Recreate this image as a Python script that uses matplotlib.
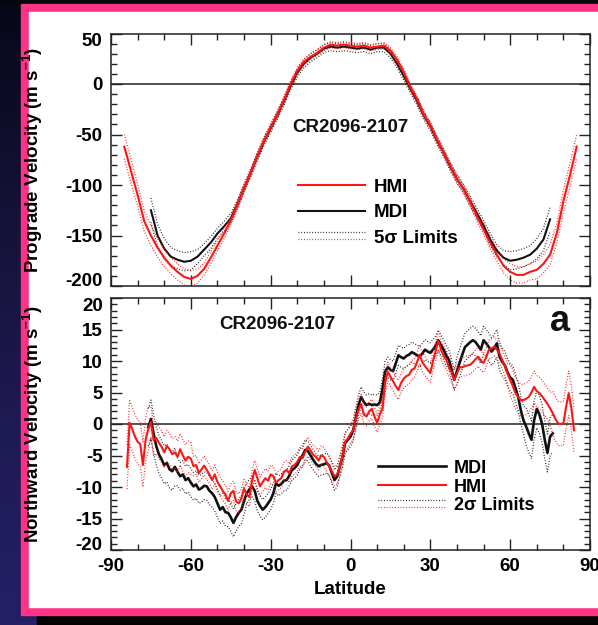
import numpy as np
import matplotlib
matplotlib.use('Agg')
import matplotlib.pyplot as plt
from matplotlib.lines import Line2D
from matplotlib.legend_handler import HandlerBase
from matplotlib.patches import Rectangle
from matplotlib.ticker import MultipleLocator
from matplotlib.colors import LinearSegmentedColormap

plt.rcParams['font.family'] = ['Liberation Sans', 'DejaVu Sans']
plt.rcParams['font.weight'] = 'bold'
plt.rcParams['axes.unicode_minus'] = False
plt.rcParams['mathtext.fontset'] = 'custom'
plt.rcParams['mathtext.rm'] = 'Liberation Sans:bold'
plt.rcParams['mathtext.it'] = 'Liberation Sans:bold'
plt.rcParams['mathtext.bf'] = 'Liberation Sans:bold'
plt.rcParams['mathtext.default'] = 'rm'

# ---------------- data: top panel (prograde velocity) ----------------
lat_top_hmi = [-85, -82.5, -80, -77.5, -75, -72.5, -70, -67.5, -65, -62.5, -60, -57.5,
               -55, -52.5, -50, -47.5, -45, -42.5, -40, -37.5, -35, -32.5, -30, -27.5,
               -25, -22.5, -20, -17.5, -15, -12.5, -10, -7.5, -5, -2.5, 0, 2.5, 5, 7.5,
               10, 12.5, 15, 17.5, 20, 22.5, 25, 27.5, 30, 32.5, 35, 37.5, 40, 42.5, 45,
               47.5, 50, 52.5, 55, 57.5, 60, 62.5, 65, 67.5, 70, 72.5, 75, 77.5, 80, 82.5, 85]
v_top_hmi = [-62, -86, -110, -136, -150, -162, -172, -180, -186, -191, -193, -190,
             -183, -172, -160, -148, -135, -120, -103, -88, -71, -56, -43, -30,
             -16, 0, 13, 22, 27, 31, 36, 39, 38, 39, 38, 37, 38, 36,
             37, 38, 33, 24, 12, -3, -15, -30, -41, -55, -68, -81, -94, -104, -117,
             -131, -144, -157, -169, -180, -186, -189, -189, -186, -184, -178, -169, -148, -116, -90, -62]
sig_top_hmi = [12, 12, 11, 10, 10, 9, 9, 8, 8, 8, 8, 7, 6, 6, 5, 5, 4, 4, 4,
               3, 3, 3, 3, 3, 3, 3, 3, 3, 3, 3, 3, 3, 3, 3, 3,
               3, 3, 3, 3, 3, 3, 3, 3, 3, 3, 3, 3, 3, 3, 3,
               4, 4, 4, 5, 5, 6, 6, 7, 8, 8, 8, 8, 9, 9, 10, 10, 11, 12, 12]

lat_top_mdi = [-75, -72.5, -70, -67.5, -65, -62.5, -60, -57.5, -55, -52.5, -50, -47.5,
               -45, -42.5, -40, -37.5, -35, -32.5, -30, -27.5, -25, -22.5, -20, -17.5,
               -15, -12.5, -10, -7.5, -5, -2.5, 0, 2.5, 5, 7.5, 10, 12.5, 15, 17.5, 20,
               22.5, 25, 27.5, 30, 32.5, 35, 37.5, 40, 42.5, 45, 47.5, 50, 52.5, 55,
               57.5, 60, 62.5, 65, 67.5, 70, 72.5, 75]
v_top_mdi = [-125, -150, -163, -171, -174, -176, -175, -171, -164, -157, -148, -141,
             -133, -119, -103, -88, -72, -57, -44, -31, -17, -2, 11, 20,
             26, 30, 35, 37, 36, 37, 36, 35, 36, 34, 36, 36, 30, 20, 8,
             -5, -17, -31, -42, -56, -68, -82, -94, -104, -116, -128, -140, -154, -165,
             -172, -175, -174, -172, -169, -163, -154, -134]
sig_top_mdi = [12, 11, 10, 9, 9, 9, 9, 7, 6, 6, 5, 5, 5,
               4, 4, 4, 4, 4, 4, 4, 4, 4, 4, 4, 4, 4, 4, 4, 4, 4,
               4,
               4, 4, 4, 4, 4, 4, 4, 4, 4, 4, 4, 4, 4, 4, 4, 4, 4,
               5, 5, 5, 6, 6, 7, 9, 9, 9, 9, 10, 11, 12]

# ---------------- data: bottom panel (northward velocity), 1 deg grid ----------------
lat_bot_hmi = list(range(-84, 85))
v_bot_hmi = [
    -6.8, 0.2, -0.8, -2.0, -2.8, -3.2, -6.5, -2.5, -0.8, 0.3,        # -84..-75
    -2.6, -2.2, -3.0, -3.6, -4.5, -3.5, -4.0, -4.8, -4.5, -5.2,      # -74..-65
    -4.0, -5.0, -5.8, -5.2, -5.5, -6.7, -6.5, -7.8, -7.2, -6.6,      # -64..-55
    -7.3, -8.0, -8.9, -8.0, -9.2, -9.9, -10.6, -11.2, -12.2, -11.0,  # -54..-45
    -10.6, -12.3, -12.6, -11.8, -10.3, -11.2, -11.6, -9.0, -7.3, -8.6,  # -44..-35
    -9.9, -9.2, -8.6, -9.0, -8.0, -8.3, -9.3, -8.9, -8.6, -7.6,      # -34..-25
    -7.3, -7.8, -6.7, -6.5, -6.0, -5.2, -5.4, -4.4, -3.6, -4.2,      # -24..-15
    -4.9, -5.2, -5.8, -5.0, -5.2, -6.0, -6.7, -7.5, -8.3, -8.0,      # -14..-5
    -6.7, -5.0, -2.8, -2.3, -1.5, -1.0, 0.8, 2.2, 3.2, 1.5,          # -4..5
    1.2, 2.0, 2.4, 1.2, 0.2, 1.5, 2.4, 6.5, 8.3, 7.5,                # 6..15
    6.8, 6.0, 5.4, 6.5, 7.2, 7.6, 7.8, 8.6, 8.8, 9.8,                # 16..25
    11.0, 9.8, 9.2, 8.6, 8.1, 10.0, 11.6, 13.2, 11.8, 10.8,          # 26..35
    10.2, 9.0, 8.2, 7.0, 8.0, 9.0, 9.0, 9.2, 9.3, 9.4,               # 36..45
    9.8, 10.3, 10.7, 10.0, 9.7, 10.6, 11.8, 12.0, 12.3, 11.8,        # 46..55
    11.2, 10.2, 9.2, 8.0, 7.0, 6.0, 4.9, 4.3, 3.8, 3.8,              # 56..65
    4.0, 4.3, 5.0, 5.9, 5.2, 4.9, 4.4, 3.8, 3.2, 2.5,                # 66..75
    1.7, 0.8, 0.1, 0.0, 0.1, 2.7, 4.9, 2.5, -1.0]                    # 76..84
sig_bot_hmi = [3.5] * 9 + [2.5] * 16 + [1.5] * 59 + [1.5] + [1.5] * 59 + [2.5] * 16 + [3.5] * 9

lat_bot_mdi = list(range(-76, 77))
v_bot_mdi = [
    -0.5, 0.8, -1.5, -3.5, -4.8, -5.6, -6.5, -6.2, -7.2, -7.5,       # -76..-67
    -6.8, -7.6, -8.3, -8.0, -8.9, -8.6, -9.3, -9.9, -9.6, -10.4,     # -66..-57
    -10.2, -9.8, -9.9, -10.6, -11.0, -11.6, -12.6, -13.6, -13.2, -14.0,  # -56..-47
    -14.1, -14.8, -15.7, -14.8, -14.1, -13.6, -12.2, -11.0, -10.4, -9.9,  # -46..-37
    -10.6, -12.2, -13.0, -13.6, -13.2, -12.6, -12.0, -11.0, -9.4, -9.8,   # -36..-27
    -9.5, -9.0, -8.9, -8.2, -7.3, -7.0, -6.5, -5.6, -5.0, -4.1,      # -26..-17
    -4.3, -5.0, -5.7, -6.3, -6.7, -6.5, -6.4, -6.2, -6.6, -7.8,      # -16..-7
    -8.9, -8.3, -6.7, -5.2, -3.0, -2.5, -2.0, -1.0, 1.0, 3.0,        # -6..3
    4.3, 3.5, 3.0, 3.2, 3.0, 3.1, 3.0, 3.4, 5.5, 8.3,                # 4..13
    9.0, 8.6, 8.4, 9.6, 10.9, 10.6, 10.4, 10.8, 11.0, 11.4,          # 14..23
    11.2, 10.9, 10.7, 11.2, 11.8, 11.5, 11.3, 11.8, 12.4, 13.3,      # 24..33
    12.5, 11.8, 10.8, 10.2, 8.6, 7.0, 8.4, 9.7, 11.0, 12.2,          # 34..43
    12.6, 13.0, 13.3, 13.0, 12.4, 11.8, 13.3, 12.8, 12.2, 11.5,      # 44..53
    12.0, 12.8, 10.7, 9.9, 9.3, 8.2, 7.4, 7.0, 5.7, 4.3,             # 54..63
    2.2, 0.6, -0.4, -1.5, -2.5, 0.6, 2.4, 1.5, 0.0, -2.5,            # 64..73
    -4.6, -2.0, -1.5]                                                # 74..76
sig_bot_mdi = [3.0] * 11 + [2.2] * 26 + [1.6] * 39 + [1.6] + [1.6] * 39 + [2.2] * 26 + [3.0] * 11

xticks = [-90, -60, -30, 0, 30, 60, 90]
yticks_top = [-200, -150, -100, -50, 0, 50]
yticks_bot = [-20, -15, -10, -5, 0, 5, 10, 15, 20]

RED = '#ff1414'
BLK = '#111111'
AXC = '#222222'
DOT = (0, (0.7, 1.5))

W, H = 598, 625
fig = plt.figure(figsize=(W / 100, H / 100), dpi=100)

# ---------------- background decoration ----------------
bg = fig.add_axes([0, 0, 1, 1], zorder=-10)
bg.set_xlim(0, W)
bg.set_ylim(H, 0)
bg.axis('off')
grad = np.linspace(0, 1, 200).reshape(-1, 1)
cm = LinearSegmentedColormap.from_list('sp', ['#07071a', '#141236', '#1e1a52', '#252066'])
bg.imshow(grad, cmap=cm, extent=(0, W, H, 0), aspect='auto')
bg.add_patch(Rectangle((37, 614), W - 37, 12, color='#000000'))
bg.add_patch(Rectangle((0, 0), W, 3.5, color='#05050c'))
bg.add_patch(Rectangle((21, 3.5), W - 21, 611, color='#ff3385'))
bg.add_patch(Rectangle((29, 12), W - 29, 595, color='white'))


class DoubleDotted(HandlerBase):
    def create_artists(self, legend, orig_handle, xdescent, ydescent, width, height, fontsize, trans):
        h1, h2 = orig_handle
        a = Line2D([-xdescent, -xdescent + width], [0.8 * height - ydescent] * 2,
                   color=h1.get_color(), lw=h1.get_linewidth(), ls=DOT, transform=trans)
        b = Line2D([-xdescent, -xdescent + width], [0.3 * height - ydescent] * 2,
                   color=h2.get_color(), lw=h2.get_linewidth(), ls=DOT, transform=trans)
        return [a, b]


def style_axes(ax, yticks, yminor):
    ax.set_xlim(-90, 90)
    ax.set_xticks(xticks)
    ax.xaxis.set_minor_locator(MultipleLocator(10))
    ax.set_yticks(yticks)
    ax.yaxis.set_minor_locator(MultipleLocator(yminor))
    ax.tick_params(which='both', direction='in', top=True, right=True, color=AXC, width=1)
    ax.tick_params(which='major', length=8, labelsize=13.5, pad=6)
    ax.tick_params(which='minor', length=4)
    for s in ax.spines.values():
        s.set_color(AXC)
        s.set_linewidth(1.1)
    ax.axhline(0, color=AXC, lw=1.1, zorder=1)


def nudge_end_labels(ax):
    ticks = ax.yaxis.get_major_ticks()
    ticks[0].label1.set_verticalalignment('baseline')
    ticks[-1].label1.set_verticalalignment('top')


# ---------------- top panel ----------------
ax1 = fig.add_axes([111 / W, 1 - 286 / H, 479 / W, 252.5 / H])
style_axes(ax1, yticks_top, 10)
ax1.set_ylim(-200, 50)
ax1.set_xticklabels([])
nudge_end_labels(ax1)

vt_m = np.array(v_top_mdi); st_m = np.array(sig_top_mdi)
vt_h = np.array(v_top_hmi); st_h = np.array(sig_top_hmi)
l_mdi, = ax1.plot(lat_top_mdi, vt_m, color=BLK, lw=1.5, zorder=3)
d_blk, = ax1.plot(lat_top_mdi, vt_m + st_m, color=BLK, lw=0.9, ls=DOT, zorder=3)
ax1.plot(lat_top_mdi, vt_m - st_m, color=BLK, lw=0.9, ls=DOT, zorder=3)
l_hmi, = ax1.plot(lat_top_hmi, vt_h, color=RED, lw=1.5, zorder=4)
d_red, = ax1.plot(lat_top_hmi, vt_h + st_h, color=RED, lw=0.9, ls=DOT, zorder=4)
ax1.plot(lat_top_hmi, vt_h - st_h, color=RED, lw=0.9, ls=DOT, zorder=4)

ax1.set_ylabel('Prograde Velocity (m s$^{-1}$)', fontsize=13.5, fontweight='bold')
ax1.yaxis.set_label_coords(-0.138, 0.5)
ax1.text(0, -43, 'CR2096-2107', ha='center', va='center', fontsize=13.5, fontweight='bold', color=BLK)

ax1.legend([l_hmi, l_mdi, (d_blk, d_red)], ['HMI', 'MDI', '5σ Limits'],
           handler_map={tuple: DoubleDotted()}, loc='center left',
           bbox_to_anchor=(0.39, 0.29), frameon=False, fontsize=13.5,
           handlelength=3.6, handletextpad=0.45, labelspacing=0.45,
           borderpad=0, borderaxespad=0)

# ---------------- bottom panel ----------------
ax2 = fig.add_axes([111 / W, 1 - 550 / H, 479 / W, 252 / H])
style_axes(ax2, yticks_bot, 1)
ax2.set_ylim(-20, 20)
ax2.set_xticklabels([str(t) for t in xticks])
nudge_end_labels(ax2)

vb_m = np.array(v_bot_mdi); sb_m = np.array(sig_bot_mdi)
vb_h = np.array(v_bot_hmi); sb_h = np.array(sig_bot_hmi)
m_mdi, = ax2.plot(lat_bot_mdi, vb_m, color=BLK, lw=1.9, zorder=3)
e_blk, = ax2.plot(lat_bot_mdi, vb_m + sb_m, color=BLK, lw=0.9, ls=DOT, zorder=3)
ax2.plot(lat_bot_mdi, vb_m - sb_m, color=BLK, lw=0.9, ls=DOT, zorder=3)
m_hmi, = ax2.plot(lat_bot_hmi, vb_h, color=RED, lw=1.5, zorder=4)
e_red, = ax2.plot(lat_bot_hmi, vb_h + sb_h, color=RED, lw=0.9, ls=DOT, zorder=4)
ax2.plot(lat_bot_hmi, vb_h - sb_h, color=RED, lw=0.9, ls=DOT, zorder=4)

ax2.set_ylabel('Northward Velocity (m s$^{-1}$)', fontsize=13.5, fontweight='bold')
ax2.yaxis.set_label_coords(-0.138, 0.5)
ax2.set_xlabel('Latitude', fontsize=13.5, fontweight='bold', labelpad=4)
ax2.text(-27.3, 15.8, 'CR2096-2107', ha='center', va='center', fontsize=13.5, fontweight='bold', color=BLK)
ax2.text(78.8, 16.2, 'a', ha='center', va='center', fontsize=26, fontweight='bold', color=BLK)

ax2.legend([m_mdi, m_hmi, (e_blk, e_red)], ['MDI', 'HMI', '2σ Limits'],
           handler_map={tuple: DoubleDotted()}, loc='center left',
           bbox_to_anchor=(0.557, 0.25), frameon=False, fontsize=13,
           handlelength=3.8, handletextpad=0.4, labelspacing=0.1,
           borderpad=0, borderaxespad=0)

fig.savefig('out.png', dpi=100)
